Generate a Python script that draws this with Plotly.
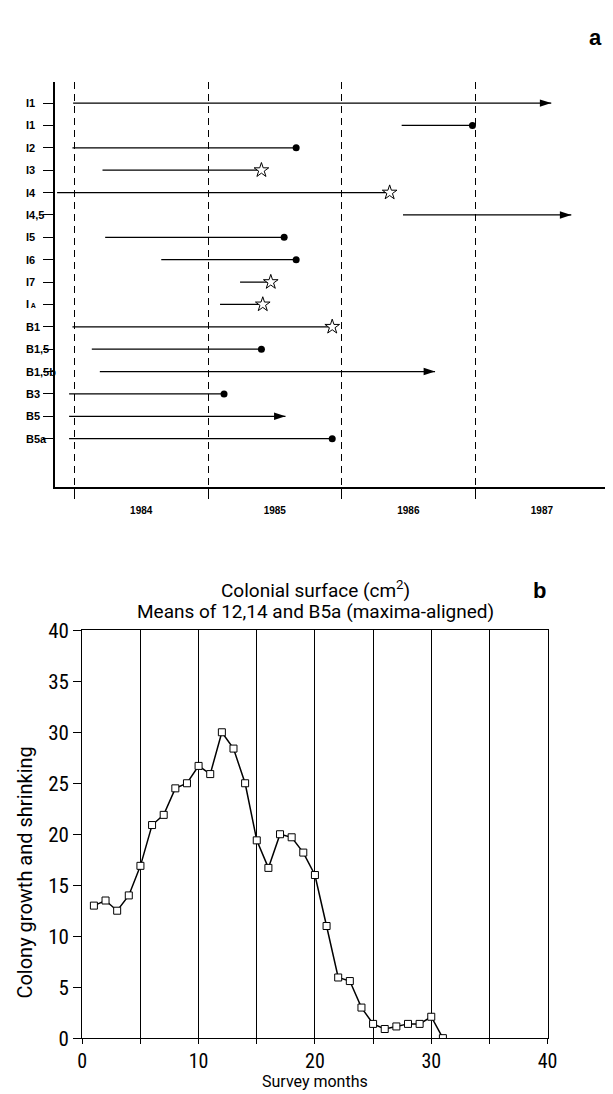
import plotly.graph_objects as go

W, H = 613, 1094

# ---------------- Panel a data ----------------
row_labels = ["I1", "I1", "I2", "I3", "I4", "I4,5", "I5", "I6", "I7",
              "I<span style='font-size:7px'> A</span>", "B1", "B1,5", "B1,5b", "B3", "B5", "B5a"]
seg_start = [1983.99, 1986.45, 1983.985, 1984.21, 1983.87, 1986.46, 1984.23, 1984.65,
             1985.24, 1985.09, 1983.985, 1984.13, 1984.19, 1983.96, 1983.96, 1983.96]
seg_end = [1987.57, 1986.98, 1985.66, 1985.40, 1986.36, 1987.72, 1985.57, 1985.66,
           1985.47, 1985.41, 1985.93, 1985.40, 1986.70, 1985.12, 1985.58, 1985.93]
seg_end_type = ["arrow", "dot", "dot", "star", "star", "arrow", "dot", "dot",
                "star", "star", "star", "dot", "arrow", "dot", "arrow", "dot"]
year_bounds = [1984, 1985, 1986, 1987, 1988]
year_mid = [1984.5, 1985.5, 1986.5, 1987.5]
year_labels = ["1984", "1985", "1986", "1987"]

# ---------------- Panel b data ----------------
months = list(range(1, 32))
surface = [13.0, 13.5, 12.5, 14.0, 16.9, 20.9, 21.9, 24.5, 25.0, 26.7, 25.9, 30.0,
           28.4, 25.0, 19.4, 16.7, 20.0, 19.7, 18.2, 16.0, 11.0, 5.95, 5.6, 3.0,
           1.4, 0.9, 1.15, 1.4, 1.4, 2.1, 0.0]
x_ticks = [0, 10, 20, 30, 40]
y_ticks = [0, 5, 10, 15, 20, 25, 30, 35, 40]

FONT = "Roboto, Liberation Sans, sans-serif"
NARROW = "Liberation Sans Narrow, Roboto Condensed, Roboto, sans-serif"
BOLD = "Liberation Sans, Arial, sans-serif"

fig = go.Figure()

rows = list(range(len(row_labels)))

# segments
lx, ly = [], []
for r, s, e in zip(rows, seg_start, seg_end):
    lx += [s, e, None]
    ly += [r, r, None]
fig.add_trace(go.Scatter(x=lx, y=ly, mode="lines", line=dict(color="black", width=1.3),
                         xaxis="x", yaxis="y", showlegend=False, hoverinfo="skip"))

def ends(kind):
    xs = [e for e, t in zip(seg_end, seg_end_type) if t == kind]
    ys = [r for r, t in zip(rows, seg_end_type) if t == kind]
    return xs, ys

dx, dy = ends("dot")
fig.add_trace(go.Scatter(x=dx, y=dy, mode="markers", xaxis="x", yaxis="y",
                         marker=dict(symbol="circle", size=7, color="black"),
                         showlegend=False))
sx, sy = ends("star")
fig.add_trace(go.Scatter(x=sx, y=sy, mode="markers", xaxis="x", yaxis="y",
                         marker=dict(symbol="star", size=11, color="white",
                                     line=dict(color="black", width=1)),
                         showlegend=False))
ax_, ay_ = ends("arrow")
fig.add_trace(go.Scatter(x=ax_, y=ay_, mode="markers", xaxis="x", yaxis="y",
                         marker=dict(symbol="arrow", size=12, angle=90, color="black",
                                     line=dict(width=0)),
                         showlegend=False))

# panel b curve
fig.add_trace(go.Scatter(x=months, y=surface, mode="lines+markers", xaxis="x2", yaxis="y2",
                         line=dict(color="black", width=1.5),
                         marker=dict(symbol="square", size=7, color="white",
                                     line=dict(color="black", width=1)),
                         showlegend=False))

def px_x(p):
    return p / W

def px_y(p):
    return 1 - p / H

fig.update_layout(
    width=W, height=H,
    margin=dict(l=0, r=0, t=0, b=0),
    paper_bgcolor="white", plot_bgcolor="white",
    font=dict(family=FONT, color="black"),
    xaxis=dict(
        domain=[px_x(43), px_x(612)], range=[1983.854, 1988.01],
        showline=True, linecolor="black", linewidth=1.5,
        tickmode="array", tickvals=year_mid,
        ticktext=["<b>%s</b>" % t for t in year_labels],
        ticks="outside", ticklen=0, tickcolor="white",
        ticklabelstandoff=14,
        tickfont=dict(size=10, family=BOLD, color="black"),
        showgrid=False, zeroline=False,
        minor=dict(tickmode="array", tickvals=year_bounds, ticks="outside", ticklen=11,
                   tickwidth=1.3, tickcolor="black", showgrid=True,
                   gridcolor="black", gridwidth=1.3, griddash="7px,5px"),
    ),
    yaxis=dict(
        domain=[px_y(477), px_y(63)], range=[17.14, -0.96],
        showline=True, linecolor="black", linewidth=1.5,
        tickmode="array", tickvals=rows, ticks="outside", ticklen=10,
        tickwidth=1.3, tickcolor="black",
        showticklabels=False, showgrid=False, zeroline=False,
    ),
    xaxis2=dict(
        domain=[px_x(71), px_x(548)], range=[0, 40], anchor="y2",
        showline=True, mirror=True, linecolor="black", linewidth=1.3,
        tickmode="array", tickvals=x_ticks,
        ticks="outside", ticklen=5, tickcolor="black",
        tickfont=dict(size=20, family=NARROW, color="black"),
        showgrid=True, gridcolor="black", gridwidth=1, zeroline=False,
        minor=dict(dtick=5, tick0=0, ticks="outside", ticklen=5, tickcolor="black",
                   showgrid=True, gridcolor="black", gridwidth=1),
    ),
    yaxis2=dict(
        domain=[px_y(1041), px_y(624)], range=[0, 40], anchor="x2",
        showline=True, mirror=True, linecolor="black", linewidth=1.3,
        tickmode="array", tickvals=y_ticks,
        ticks="outside", ticklen=8, tickcolor="black",
        tickfont=dict(size=21, family=NARROW, color="black"),
        showgrid=False, zeroline=False,
    ),
)

annotations = []
for r, lab in zip(rows, row_labels):
    annotations.append(dict(x=px_x(11), xref="paper", y=r, yref="y", text="<b>%s</b>" % lab,
                            showarrow=False, xanchor="left", yanchor="middle",
                            font=dict(size=11, family=BOLD, color="black")))
annotations += [
    dict(x=px_x(597), y=px_y(18), xref="paper", yref="paper", text="<b>a</b>",
         showarrow=False, xanchor="center", yanchor="middle",
         font=dict(size=22, family=BOLD)),
    dict(x=px_x(540), y=px_y(583), xref="paper", yref="paper", text="<b>b</b>",
         showarrow=False, xanchor="center", yanchor="middle",
         font=dict(size=22, family=BOLD)),
    dict(x=px_x(310), y=px_y(582), xref="paper", yref="paper",
         text="Colonial surface (cm<sup>2</sup>)", showarrow=False,
         xanchor="center", yanchor="middle", font=dict(size=19, family=FONT)),
    dict(x=px_x(310), y=px_y(605), xref="paper", yref="paper",
         text="Means of 12,14 and B5a (maxima-aligned)", showarrow=False,
         xanchor="center", yanchor="middle", font=dict(size=19, family=FONT)),
    dict(x=px_x(310), y=px_y(1085), xref="paper", yref="paper",
         text="Survey months", showarrow=False, xanchor="center", yanchor="middle",
         font=dict(size=16, family=FONT)),
    dict(x=px_x(12), y=px_y(872), xref="paper", yref="paper",
         text="Colony growth and shrinking", showarrow=False, textangle=-90,
         xanchor="center", yanchor="middle", font=dict(size=20, family=FONT)),
]
fig.update_layout(annotations=annotations)

fig.write_html("out.html")
